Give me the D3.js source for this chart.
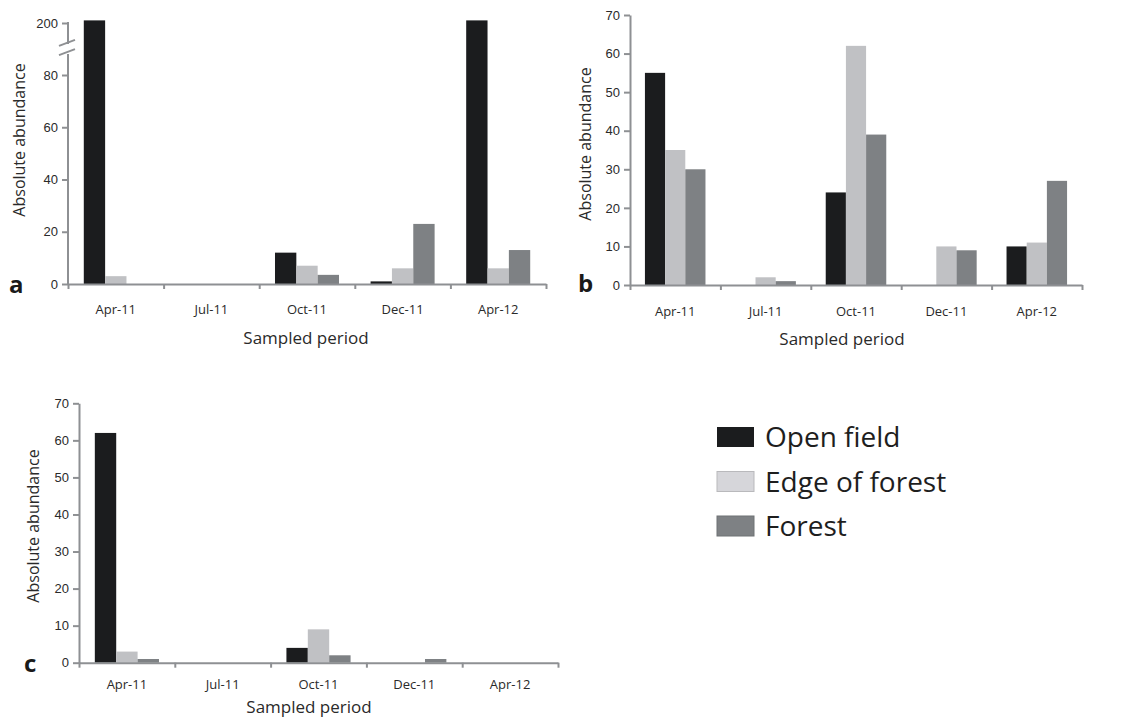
<!DOCTYPE html>
<html>

<head>
    <meta charset="utf-8">
    <style>
        body {
            margin: 0;
            background: #fff;
            font-family: 'Open Sans', Arial, sans-serif;
        }

        svg {
            display: block;
        }

        .tick text {
            fill: #2a2a2a;
        }
    </style>
</head>

<body>
    <svg width="1148" height="718"></svg>
</body>

<script src="https://d3js.org/d3.v7.min.js"></script>

<script>
    // categories
    let periods = ["Apr-11", "Jul-11", "Oct-11", "Dec-11", "Apr-12"]
    let habitats = ["Open field", "Edge of forest", "Forest"]

    // panel a (the two tall bars go past the axis break)
    let aOpen = [201, 0, 12, 1, 201]
    let aEdge = [3, 0, 7, 6, 6]
    let aForest = [0, 0, 3.5, 23, 13]
    let aTicks = [0, 20, 40, 60, 80, 200]

    // panel b
    let bOpen = [55, 0, 24, 0, 10]
    let bEdge = [35, 2, 62, 10, 11]
    let bForest = [30, 1, 39, 9, 27]
    let bTicks = [0, 10, 20, 30, 40, 50, 60, 70]

    // panel c
    let cOpen = [62, 0, 4, 0, 0]
    let cEdge = [3, 0, 9, 0, 0]
    let cForest = [1, 0, 2, 1, 0]
    let cTicks = [0, 10, 20, 30, 40, 50, 60, 70]

    let colors = d3.scaleOrdinal()
        .domain(habitats)
        .range(["#1b1c1e", "#c0c1c4", "#7e8184"])

    let axisColor = "#8e9093"

    let svg = d3.select("svg")

    function drawPanel(opts) {
        let g = svg.append("g")

        let x = d3.scaleBand()
            .domain(periods)
            .range([opts.left, opts.right])

        let xSub = d3.scaleBand()
            .domain(habitats)
            .range([0, x.bandwidth()])
            .paddingOuter(0.74)

        let y = opts.y

        let rows = periods.map((p, i) => ({
            period: p,
            values: habitats.map((h, j) => ({ habitat: h, value: opts.series[j][i] }))
        }))

        // bars
        g.selectAll(".group")
            .data(rows)
            .join("g")
            .attr("transform", d => `translate(${x(d.period)},0)`)
            .selectAll("rect")
            .data(d => d.values)
            .join("rect")
            .attr("x", d => xSub(d.habitat))
            .attr("width", xSub.bandwidth())
            .attr("y", d => y(d.value))
            .attr("height", d => y(0) - y(d.value))
            .attr("fill", d => colors(d.habitat))

        // x axis: ticks sit on band edges
        let xLine = d3.scaleLinear().domain([0, periods.length]).range([opts.left, opts.right])
        let xAxis = d3.axisBottom(xLine)
            .tickValues(d3.range(periods.length + 1))
            .tickSize(5)
            .tickSizeOuter(0)
            .tickFormat("")

        let xg = g.append("g")
            .attr("transform", `translate(0,${y(0)})`)
            .call(xAxis)
        xg.selectAll("path, line").attr("stroke", axisColor).attr("stroke-width", 2)

        g.selectAll(".xlab")
            .data(periods)
            .join("text")
            .attr("x", d => x(d) + x.bandwidth() / 2)
            .attr("y", y(0) + opts.labelGap)
            .attr("text-anchor", "middle")
            .attr("font-size", 13)
            .attr("fill", "#2a2a2a")
            .text(d => d)

        // y axis
        let yAxis = d3.axisLeft(y)
            .tickValues(opts.ticks)
            .tickSize(6)
            .tickSizeOuter(0)
            .tickPadding(4)

        let yg = g.append("g")
            .attr("transform", `translate(${opts.left},0)`)
            .call(yAxis)
        yg.selectAll("line").attr("stroke", axisColor).attr("stroke-width", 2)
        yg.selectAll("text").attr("font-size", 13)

        if (opts.breakAt) {
            // broken axis: two segments and two slashes
            yg.select(".domain").remove()
            let b = opts.breakAt
            yg.append("line")
                .attr("x1", 0).attr("x2", 0)
                .attr("y1", y(0) + 1).attr("y2", y(b[0]))
                .attr("stroke", axisColor).attr("stroke-width", 2)
            yg.append("line")
                .attr("x1", 0).attr("x2", 0)
                .attr("y1", y(b[1])).attr("y2", y(200) - 1)
                .attr("stroke", axisColor).attr("stroke-width", 2)
            yg.selectAll(".slash")
                .data([y(b[1]) - 1, y(b[0]) - 2])
                .join("line")
                .attr("x1", -9).attr("x2", 7)
                .attr("y1", d => d + 3).attr("y2", d => d - 3)
                .attr("stroke", axisColor).attr("stroke-width", 2)
        } else {
            yg.select(".domain").attr("stroke", axisColor).attr("stroke-width", 2)
        }

        // titles
        g.append("text")
            .attr("x", opts.xTitle[0])
            .attr("y", opts.xTitle[1])
            .attr("text-anchor", "middle")
            .attr("font-size", 17)
            .attr("fill", "#2a2a2a")
            .text("Sampled period")

        g.append("text")
            .attr("transform", `translate(${opts.yTitle[0]},${opts.yTitle[1]}) rotate(-90)`)
            .attr("dy", "0.35em")
            .attr("text-anchor", "middle")
            .attr("font-size", 16)
            .attr("fill", "#2a2a2a")
            .text("Absolute abundance")

        g.append("text")
            .attr("x", opts.letter[0])
            .attr("y", opts.letter[1])
            .attr("font-size", 24)
            .attr("font-weight", "bold")
            .attr("fill", "#1a1a1a")
            .text(opts.name)
    }

    // panel a, scale with a jump between 88 and 192
    let k = (284 - 75) / 80
    let yA = d3.scaleLinear()
        .domain([0, 88, 192, 210])
        .range([284, 284 - 88 * k, 23 + 8 * k, 23 - 10 * k])

    drawPanel({
        name: "a", left: 68, right: 546, y: yA, ticks: aTicks,
        series: [aOpen, aEdge, aForest], breakAt: [88, 192],
        labelGap: 30, xTitle: [306, 344], yTitle: [19, 140], letter: [9, 293]
    })

    drawPanel({
        name: "b", left: 630, right: 1082,
        y: d3.scaleLinear().domain([0, 70]).range([285, 15]), ticks: bTicks,
        series: [bOpen, bEdge, bForest],
        labelGap: 31, xTitle: [842, 345], yTitle: [585, 144], letter: [578, 292]
    })

    drawPanel({
        name: "c", left: 79, right: 558,
        y: d3.scaleLinear().domain([0, 70]).range([662.7, 403.3]), ticks: cTicks,
        series: [cOpen, cEdge, cForest],
        labelGap: 26, xTitle: [309, 713], yTitle: [33, 526], letter: [24, 672]
    })

    // legend
    let legend = svg.append("g").attr("transform", "translate(717,427)")

    let items = legend.selectAll("g")
        .data(habitats)
        .join("g")
        .attr("transform", (d, i) => `translate(0,${i * 44.5})`)

    items.append("rect")
        .attr("width", 37)
        .attr("height", 20)
        .attr("fill", (d, i) => i == 1 ? "#d6d6da" : colors(d))
        .attr("stroke", (d, i) => i == 1 ? "#b9b9bc" : (i == 2 ? "#6f7275" : "none"))
        .attr("stroke-width", 1)

    items.append("text")
        .attr("x", 48)
        .attr("y", 20)
        .attr("font-size", 28)
        .attr("fill", "#1e1e1e")
        .text(d => d)
</script>

</html>
